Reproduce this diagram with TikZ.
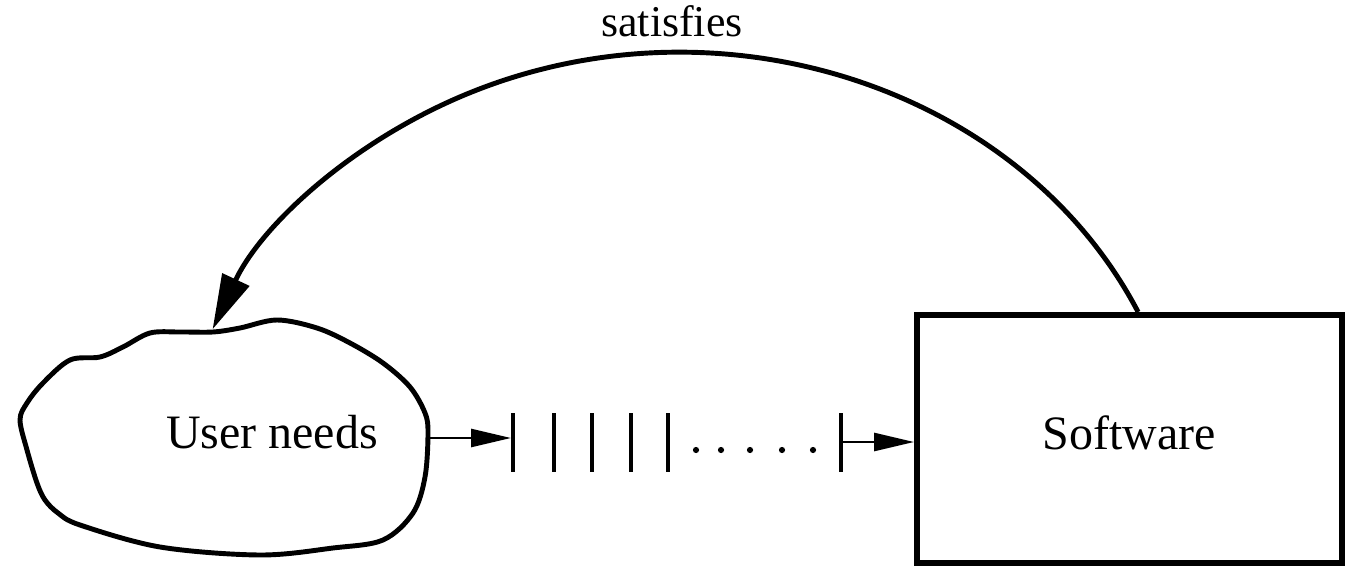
\documentclass[tikz,border=0pt]{standalone}
\usepackage{fontspec}
\setmainfont{Liberation Serif}
\usetikzlibrary{arrows.meta,calc}
\tikzset{
  bigfont/.style={font=\fontsize{27.3}{32}\selectfont},
  lblfont/.style={font=\fontsize{25}{29}\selectfont},
  swbox/.style={draw, line width=3.4pt, minimum width=8.5cm, minimum height=4.96cm, inner sep=0pt, text depth=0.24cm, bigfont},
  cloudline/.style={line width=2.8pt, line join=round},
  bigarr/.style={line width=2.8pt, -{Triangle[length=1.1cm, width=0.58cm]}},
  smallarr/.style={line width=1.5pt, -{Triangle[length=0.8cm, width=0.36cm]}},
  barline/.style={line width=2.3pt},
  dotmark/.style={fill=black}
}
\begin{document}
\begin{tikzpicture}[x=0.02cm, y=0.02cm]
\useasboundingbox (0,0) rectangle (1358,565);
% cloud
\draw[cloudline] plot[smooth cycle, tension=0.55] coordinates {
 (20,145) (27,115) (37,82) (45,65) (58,52) (80,40) (160,18) (260,10) (333,17) (383,25)
 (413,52) (425,88) (428,132) (425,152) (410,178) (383,202) (350,222) (317,237) (277,245)
 (240,237) (213,233) (180,233) (150,232) (123,218) (100,208) (70,205) (43,182) (27,162)};
\node[bigfont] (un) at (272,133) {User needs};
\coordinate (cloudtop) at (213,233);
\coordinate (cloudright) at (429,127);
% software box
\node[swbox] (sw) at (1129.5,126) {Software};
\coordinate (arcS) at ($(sw.north west)!0.52!(sw.north east)$);
% satisfies arc
\draw[bigarr] (arcS) arc[start angle=25, end angle=157.4, x radius=10.12cm, y radius=9cm];
\node[lblfont, anchor=base] (sat) at (672,528) {satisfies};
% bars
\coordinate (b1) at (513,127);
\coordinate (b6) at (841,123);
\foreach \bx in {513,554,592,631,668,841}
  \draw[barline] (\bx,152) -- (\bx,93);
\foreach \dx in {696,721,750,782,813}
  \fill[dotmark] (\dx,115) circle (0.062cm);
\draw[smallarr] (cloudright) -- ($(b1)+(-2,0)$);
\draw[smallarr] (b6) -- (b6 -| sw.west);
\end{tikzpicture}
\end{document}
